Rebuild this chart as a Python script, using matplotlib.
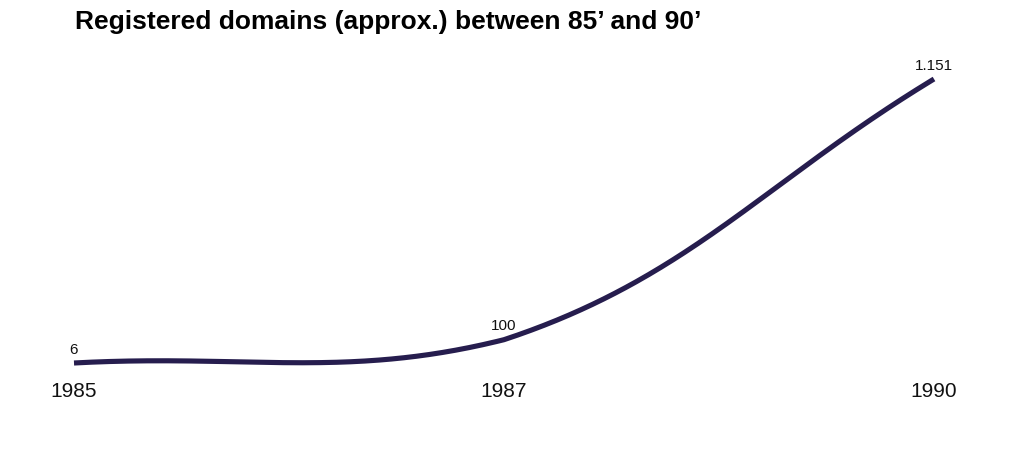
import numpy as np
import matplotlib
matplotlib.use('Agg')
import matplotlib.pyplot as plt

# DATA
years = ['1985', '1987', '1990']
domains = [6, 100, 1151]
value_labels = ['6', '100', '1.151']

LINE_COLOR = '#261d4e'
TENSION = 0.4


def spline_path(pts, box, tension=TENSION, n=200):
  # bezier spline, control points kept inside the plot box
  pts = np.asarray(pts, dtype=float)
  k = len(pts)
  prev_cp = np.zeros_like(pts)
  next_cp = np.zeros_like(pts)
  for i in range(k):
    p = pts[i]
    pp = pts[i - 1] if i > 0 else p
    pn = pts[i + 1] if i < k - 1 else p
    d01 = np.linalg.norm(p - pp)
    d12 = np.linalg.norm(pn - p)
    tot = d01 + d12
    s01 = d01 / tot if tot else 0
    s12 = d12 / tot if tot else 0
    prev_cp[i] = p - tension * s01 * (pn - pp)
    next_cp[i] = p + tension * s12 * (pn - pp)
  (x0, y0), (x1, y1) = box
  for cp in (prev_cp, next_cp):
    cp[:, 0] = np.clip(cp[:, 0], x0, x1)
    cp[:, 1] = np.clip(cp[:, 1], y0, y1)
  out = [pts[:1]]
  t = np.linspace(0, 1, n)[1:, None]
  for i in range(k - 1):
    a, c1, c2, b = pts[i], next_cp[i], prev_cp[i + 1], pts[i + 1]
    out.append((1 - t)**3 * a + 3 * (1 - t)**2 * t * c1
               + 3 * (1 - t) * t**2 * c2 + t**3 * b)
  return np.vstack(out)


plt.rcParams['font.family'] = ['Liberation Sans', 'DejaVu Sans']

fig = plt.figure(figsize=(10.24, 4.5), dpi=100)
ax = fig.add_axes([74 / 1024, (450 - 363) / 450, 860 / 1024, (363 - 79) / 450])
ax.set_xlim(0, len(years) - 1)
ax.set_ylim(min(domains), max(domains))
ax.axis('off')

xs = np.arange(len(years))
pix = ax.transData.transform(np.column_stack([xs, domains]))
# plot area of the value scale starts at zero
box = ax.transData.transform([[0, -60], [len(years) - 1, max(domains)]])
curve = ax.transData.inverted().transform(spline_path(pix, box))
ax.plot(curve[:, 0], curve[:, 1], color=LINE_COLOR, lw=3.7,
        solid_capstyle='butt', clip_on=False)

for i, (v, lab) in enumerate(zip(domains, value_labels)):
  ax.annotate(lab, (i, v), xytext=(0, 4.5), textcoords='offset points',
              ha='center', va='bottom', fontsize=11, color='#111111')
  ax.annotate(years[i], (i, min(domains)), xytext=(0, -14), textcoords='offset points',
              ha='center', va='top', fontsize=15, color='#111111')

fig.text(75 / 1024, 1 - 22 / 450, 'Registered domains (approx.) between 85’ and 90’',
         ha='left', va='center', fontsize=19, fontweight='bold', color='#000000')

fig.savefig('out.png', dpi=100)
